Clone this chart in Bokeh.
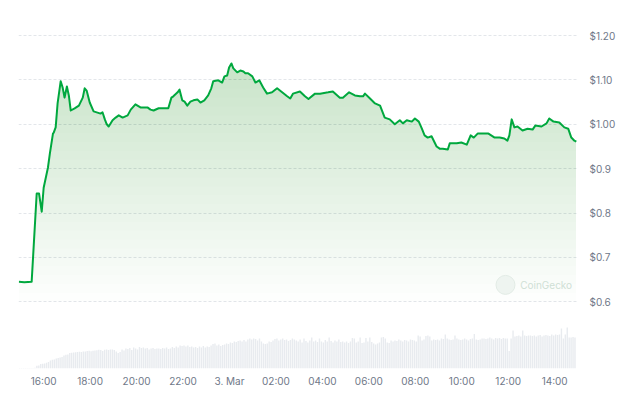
import numpy as np
import pandas as pd
from bokeh.plotting import figure
from bokeh.models import Range1d, FixedTicker, CustomJSTickFormatter
from bokeh.core.properties import value
from bokeh.embed import file_html
from bokeh.resources import INLINE

# ---------------- data ----------------
START_DAY = "2025-03-02"

price_time = [
    "14:56", "15:10", "15:29", "15:42", "15:48", "15:55", "16:00", "16:11", "16:16", "16:24",
    "16:26", "16:31", "16:36", "16:44", "16:49", "16:54", "17:00", "17:05", "17:10", "17:20",
    "17:31", "17:41", "17:46", "17:51", "17:59", "18:09", "18:27", "18:32", "18:38", "18:43",
    "18:48", "18:58", "19:06", "19:14", "19:24", "19:37", "19:45", "19:57", "20:10", "20:28",
    "20:36", "20:44", "20:57", "21:10", "21:22", "21:30", "21:35", "21:46", "21:51", "21:58",
    "22:04", "22:11", "22:19", "22:27", "22:37", "22:45", "22:55", "23:05", "23:13", "23:18",
    "23:31", "23:41", "23:47", "23:54", "23:59", "00:05", "00:10", "00:20", "00:28", "00:36",
    "00:41", "00:48", "00:59", "01:07", "01:17", "01:27", "01:37", "01:50", "02:03", "02:16",
    "02:29", "02:37", "02:44", "03:02", "03:15", "03:24", "03:41", "03:54", "04:15", "04:27",
    "04:45", "04:53", "05:09", "05:24", "05:37", "05:45", "05:50", "06:03", "06:16", "06:29",
    "06:41", "06:54", "07:07", "07:20", "07:28", "07:38", "07:51", "07:59", "08:09", "08:17",
    "08:24", "08:32", "08:42", "08:55", "09:03", "09:11", "09:24", "09:29", "09:47", "09:59",
    "10:13", "10:23", "10:31", "10:41", "10:54", "11:09", "11:25", "11:38", "11:50", "11:58",
    "12:03", "12:09", "12:16", "12:24", "12:37", "12:50", "13:03", "13:10", "13:26", "13:39",
    "13:46", "13:57", "14:12", "14:25", "14:35", "14:43", "14:51", "14:56",
]
price_usd = [
    0.645, 0.644, 0.645, 0.844, 0.844, 0.803, 0.857, 0.902, 0.934, 0.979,
    0.981, 0.993, 1.047, 1.097, 1.083, 1.060, 1.085, 1.065, 1.031, 1.036,
    1.042, 1.060, 1.081, 1.076, 1.049, 1.029, 1.024, 1.027, 1.011, 1.000,
    0.995, 1.009, 1.015, 1.020, 1.015, 1.020, 1.033, 1.045, 1.038, 1.038,
    1.033, 1.031, 1.036, 1.036, 1.036, 1.060, 1.063, 1.072, 1.078, 1.054,
    1.051, 1.042, 1.051, 1.054, 1.056, 1.049, 1.054, 1.065, 1.081, 1.097,
    1.099, 1.094, 1.108, 1.110, 1.128, 1.137, 1.126, 1.117, 1.121, 1.119,
    1.115, 1.115, 1.108, 1.094, 1.099, 1.083, 1.069, 1.072, 1.081, 1.072,
    1.063, 1.058, 1.069, 1.074, 1.063, 1.057, 1.069, 1.069, 1.072, 1.074,
    1.060, 1.060, 1.072, 1.065, 1.063, 1.063, 1.069, 1.058, 1.047, 1.042,
    1.015, 1.011, 1.000, 1.009, 1.002, 1.009, 1.006, 1.013, 1.006, 0.990,
    0.975, 0.970, 0.973, 0.950, 0.945, 0.945, 0.943, 0.957, 0.957, 0.959,
    0.954, 0.975, 0.970, 0.979, 0.979, 0.979, 0.970, 0.970, 0.968, 0.963,
    0.975, 1.011, 0.993, 0.995, 0.986, 0.990, 0.988, 0.997, 0.995, 1.002,
    1.013, 1.006, 1.004, 0.993, 0.990, 0.970, 0.963, 0.961,
]

# 5-minute volume bars (relative units), from 14:55 on 2 Mar
volume_start = "2025-03-02 14:55"
volume = [
    0.5, 0.5, 0.5, 0.5, 0.5, 0.5, 0.5, 0.5, 0.8, 2.7, 3, 4.5, 4.7, 5, 5.7, 6.5, 8, 8.7, 9, 10, 10.5, 11, 11.5, 13,
    13.7, 14, 15.5, 15.7, 16, 16.2, 16.5, 16.7, 16.4, 16.9, 17, 17.5, 17.7, 17.2, 17.8, 18, 18.2, 18.7, 18.5, 17.5, 18.7, 18.9, 18.6, 19,
    19, 18.5, 17, 15.5, 16.5, 19, 18, 20, 19.5, 20.5, 18.5, 21, 20, 19, 21.5, 20.5, 21, 20, 20.5, 19, 20, 20.5, 19.5, 20,
    20, 19.5, 20.5, 20, 21, 19.5, 20, 21.5, 20.5, 22, 21, 23, 22.5, 23, 22, 23, 21.5, 22, 21, 21.5, 20.5, 22, 21, 22.5,
    21, 22, 21.5, 23, 24.5, 25, 23, 24, 22.5, 23.5, 24, 25, 24.5, 26, 25.5, 27, 26.5, 27.5, 28, 27, 28.5, 27, 29, 30,
    29, 30, 29.5, 28, 30, 27, 25, 24.5, 25, 27, 26.5, 28, 29.5, 30, 28, 29, 30, 28.5, 29, 27.5, 28.5, 30, 29, 28,
    27, 29, 26, 30, 27.5, 26, 28, 31, 27, 28, 26.5, 30, 27, 26, 28.5, 27, 31, 27.5, 26, 28, 27, 29, 26.5, 27,
    26, 27, 25.5, 27, 30.5, 30, 26, 27, 31, 25.5, 26, 30.5, 27, 31, 26.5, 25, 24, 25, 26, 31, 31.5, 30, 26, 25.5,
    28, 27, 28, 27.5, 29, 28, 27, 28.5, 28, 27, 29, 28.5, 28, 27, 33, 32, 28, 29, 32.5, 33, 32, 28, 29, 28.5,
    29, 28, 30, 29.5, 34, 30, 29, 28.5, 29, 33, 30, 29, 28.5, 29, 30, 29, 28, 29.5, 30, 34.5, 29, 28.5, 29, 30,
    30, 29.5, 30, 31, 30, 29, 30.5, 30, 30.5, 29.5, 30.5, 30, 30, 17.5, 30, 38, 32, 32.5, 33, 32, 38, 33, 32.5, 33,
    33, 32.5, 33, 32, 33, 33.5, 32, 33, 33.5, 33, 32.5, 34, 33, 34, 33.5, 34, 40, 30, 34, 41, 31, 31, 31.5, 31,
]

y_ticks = [0.6, 0.7, 0.8, 0.9, 1.0, 1.1, 1.2]
y_tick_labels = ["$0.6", "$0.7", "$0.8", "$0.9", "$1.00", "$1.10", "$1.20"]

x_tick_times = [
    "2025-03-02 16:00", "2025-03-02 18:00", "2025-03-02 20:00", "2025-03-02 22:00",
    "2025-03-03 00:00", "2025-03-03 02:00", "2025-03-03 04:00", "2025-03-03 06:00",
    "2025-03-03 08:00", "2025-03-03 10:00", "2025-03-03 12:00", "2025-03-03 14:00",
]
x_tick_labels = ["16:00", "18:00", "20:00", "22:00", "3. Mar", "02:00", "04:00",
                 "06:00", "08:00", "10:00", "12:00", "14:00"]

x_start, x_end = "2025-03-02 14:55", "2025-03-03 14:59"
watermark_text = "CoinGecko"

# ---------------- helpers ----------------
def hhmm_to_datetimes(hhmm, day):
    out, cur_day, prev = [], pd.Timestamp(day), None
    for s in hhmm:
        t = pd.Timestamp(f"{cur_day.date()} {s}")
        if prev is not None and t < prev:
            cur_day += pd.Timedelta(days=1)
            t += pd.Timedelta(days=1)
        out.append(t)
        prev = t
    return out

t_price = hhmm_to_datetimes(price_time, START_DAY)
p_arr = np.array(price_usd)
t_vol = pd.date_range(volume_start, periods=len(volume), freq="5min") + pd.Timedelta(minutes=2.5)

def ms(s):
    return pd.Timestamp(s).value / 1e6

GREEN = "#00a83e"
LABEL_COLOR = "#6f7888"
FONT = "Inter"

p = figure(
    width=624, height=396, x_axis_type="datetime", y_axis_location="right",
    x_range=Range1d(ms(x_start), ms(x_end)), y_range=Range1d(0.4496, 1.2113),
    output_backend="svg", toolbar_location=None,
    min_border_left=18, min_border_right=47, min_border_top=30, min_border_bottom=28,
)
p.outline_line_color = None
p.background_fill_color = "white"
p.border_fill_color = "white"

# volume bars
p.extra_y_ranges = {"vol": Range1d(0, 338)}
p.vbar(x=t_vol, top=volume, width=3.6 * 60 * 1000, y_range_name="vol",
       fill_color="#e8ebef", line_color=None)

# gradient-like fill under price (stacked translucent layers)
levels = np.arange(0.60, 1.13, 0.02)
for lo in levels:
    p.varea(x=t_price, y1=np.minimum(p_arr, lo), y2=p_arr,
            fill_color=GREEN, fill_alpha=0.0095)

# price line
p.line(t_price, price_usd, line_color=GREEN, line_width=2, line_join="round")

# watermark
wm_y = 0.638
p.scatter(x=[pd.Timestamp("2025-03-03 11:53")], y=[wm_y], size=19,
          fill_color="#eef4f0", line_color="#e2ebe5", line_width=1)
p.text(x=[pd.Timestamp("2025-03-03 12:31")], y=[wm_y], text=[watermark_text],
       text_font=value(FONT), text_font_size="10px", text_color="#cfe0d5",
       text_baseline="middle", text_align="left")

# axes
JS_LOOKUP = """
    for (let i = 0; i < tvals.length; i++) { if (Math.abs(tvals[i] - tick) < eps) return tlabels[i]; }
    return "";
"""
yax = p.yaxis[0]
yax.ticker = FixedTicker(ticks=y_ticks)
yax.formatter = CustomJSTickFormatter(
    args=dict(tvals=y_ticks, tlabels=y_tick_labels, eps=1e-9), code=JS_LOOKUP)
x_tick_ms = [ms(s) for s in x_tick_times]
xax = p.xaxis[0]
xax.ticker = FixedTicker(ticks=x_tick_ms)
xax.formatter = CustomJSTickFormatter(
    args=dict(tvals=x_tick_ms, tlabels=x_tick_labels, eps=1.0), code=JS_LOOKUP)
for ax in (xax, yax):
    ax.axis_line_color = None
    ax.major_tick_line_color = None
    ax.minor_tick_line_color = None
    ax.major_tick_out = 0
    ax.major_tick_in = 0
    ax.minor_tick_out = 0
    ax.minor_tick_in = 0
    ax.major_label_text_color = LABEL_COLOR
    ax.major_label_text_font = FONT
    ax.major_label_text_font_size = "10px"
yax.major_label_standoff = 12
xax.major_label_standoff = 6

p.xgrid.visible = False
p.ygrid.ticker = FixedTicker(ticks=y_ticks)
p.ygrid.grid_line_color = "#e3e6ea"
p.ygrid.grid_line_dash = "3 2"
p.ygrid.grid_line_width = 1

open("out.html", "w").write(file_html(p, INLINE))
